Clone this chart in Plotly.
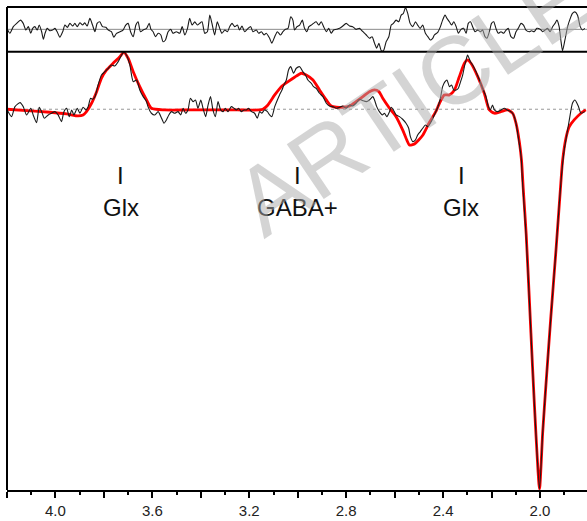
import plotly.graph_objects as go

# ---------------- data ----------------
# acquired (difference) spectrum, black
data_ppm = [4.199, 4.181, 4.167, 4.146, 4.133, 4.119, 4.102, 4.092, 4.078, 4.067, 4.057, 4.046, 4.030, 4.016,
            4.002, 3.989, 3.975, 3.965, 3.954, 3.943, 3.933, 3.924, 3.910, 3.899, 3.886, 3.874, 3.865, 3.855,
            3.847, 3.837, 3.824, 3.810, 3.796, 3.782, 3.769, 3.755, 3.741, 3.727, 3.718, 3.707, 3.693, 3.679,
            3.665, 3.652, 3.638, 3.624, 3.618, 3.604, 3.590, 3.576, 3.562, 3.552, 3.542, 3.532, 3.521, 3.508,
            3.494, 3.483, 3.473, 3.463, 3.453, 3.443, 3.432, 3.422, 3.412, 3.400, 3.391, 3.380, 3.370, 3.360,
            3.350, 3.340, 3.329, 3.318, 3.308, 3.299, 3.288, 3.274, 3.263, 3.253, 3.244, 3.233, 3.222, 3.212,
            3.203, 3.191, 3.178, 3.167, 3.157, 3.148, 3.137, 3.125, 3.116, 3.107, 3.095, 3.084, 3.075, 3.065,
            3.057, 3.047, 3.038, 3.029, 3.017, 3.006, 2.992, 2.979, 2.968, 2.958, 2.944, 2.935, 2.924, 2.910,
            2.896, 2.882, 2.869, 2.855, 2.841, 2.827, 2.814, 2.800, 2.786, 2.773, 2.759, 2.745, 2.731, 2.717,
            2.704, 2.690, 2.683, 2.674, 2.663, 2.651, 2.642, 2.632, 2.621, 2.614, 2.605, 2.594, 2.580, 2.567,
            2.553, 2.542, 2.535, 2.525, 2.514, 2.505, 2.494, 2.484, 2.473, 2.463, 2.449, 2.436, 2.422, 2.411,
            2.402, 2.392, 2.384, 2.374, 2.365, 2.356, 2.346, 2.337, 2.329, 2.319, 2.312, 2.305, 2.299, 2.287,
            2.278, 2.264, 2.250, 2.237, 2.223, 2.213, 2.205, 2.196, 2.188, 2.175, 2.161, 2.147, 2.136, 2.120,
            2.109, 2.099, 2.090, 2.078, 2.072, 2.058, 2.044, 2.031, 2.017, 2.002, 1.989, 1.975, 1.955, 1.934,
            1.914, 1.900, 1.893, 1.879, 1.866, 1.856, 1.842, 1.831, 1.815]
data_val = [-0.7, -7.4, 2.6, 6.6, 2.6, -5.7, 1.0, -5.7, -13.4, 2.0, -2.4, -9.0, -5.7, -4.0,
            -2.4, -5.7, -12.4, -2.4, 1.0, -7.4, -0.7, -5.7, 1.0, -4.0, 2.0, -0.7, 2.6, 11.0,
            10.0, 12.6, 24.3, 34.3, 37.6, 41.0, 44.3, 43.3, 47.6, 54.3, 57.0, 54.3, 44.3, 27.6,
            29.3, 19.3, 12.6, 7.6, 2.6, -4.0, -5.7, -2.4, -9.0, -14.0, -10.7, -5.7, -2.4, -4.0,
            -2.4, -5.7, 1.0, -4.0, -0.7, 11.0, 7.6, 9.3, 1.0, 9.3, 1.0, -7.4, 4.3, 12.6,
            -0.7, -7.4, 7.6, -0.7, -2.4, 1.0, -2.4, 2.6, 1.0, -0.7, 1.0, -2.4, -0.7, -0.7,
            1.0, -2.4, -4.0, -9.0, -2.4, -4.0, -0.7, -2.4, -5.7, -7.4, 2.6, 9.3, 14.3, 19.3,
            24.3, 29.3, 39.3, 42.6, 36.0, 41.0, 42.6, 37.6, 34.3, 29.3, 26.0, 22.6, 21.0, 16.0,
            12.6, 6.0, 3.3, 2.6, 1.0, 2.0, 3.3, 1.0, 4.3, 3.3, 6.0, 10.0, 8.6, 7.6,
            9.3, 12.6, 9.3, 2.6, -2.4, -5.7, -4.0, -7.4, -2.4, 2.0, -0.7, -5.7, -7.4, -10.0,
            -14.0, -19.0, -27.4, -32.4, -30.7, -25.7, -22.4, -19.0, -15.7, -17.4, -12.4, -5.7, 2.0, 11.0,
            22.6, 27.6, 29.3, 22.6, 24.3, 19.3, 19.3, 21.0, 26.6, 34.3, 42.6, 49.3, 54.3, 47.6,
            44.3, 37.6, 29.3, 21.0, 12.6, 2.6, -0.7, 4.3, -0.7, -2.4, -0.7, 1.0, -0.7, -2.4,
            -5.7, -14.0, -27.4, -47.4, -74.0, -124.0, -190.7, -257.4, -324.0, -380.0, -324.0, -274.0, -207.4, -140.7,
            -74.0, -40.7, -30.7, -10.7, 6.0, 9.3, 3.3, -4.0, -2.4]

# model fit, red
fit_ppm = [4.199, 4.119, 4.023, 3.954, 3.906, 3.886, 3.872, 3.851, 3.830, 3.810, 3.789, 3.762, 3.734, 3.718,
           3.700, 3.679, 3.652, 3.624, 3.604, 3.55, 3.45, 3.35, 3.25, 3.157, 3.144, 3.123, 3.095, 3.068,
           3.040, 3.013, 2.985, 2.965, 2.937, 2.910, 2.882, 2.862, 2.841, 2.814, 2.786, 2.759, 2.731, 2.704,
           2.683, 2.665, 2.649, 2.621, 2.594, 2.567, 2.550, 2.539, 2.518, 2.484, 2.456, 2.429, 2.415, 2.395,
           2.374, 2.353, 2.333, 2.312, 2.299, 2.285, 2.257, 2.230, 2.209, 2.188, 2.161, 2.134, 2.113, 2.099,
           2.085, 2.076, 2.069, 2.057, 2.044, 2.031, 2.017, 2.002, 1.989, 1.975, 1.955, 1.934, 1.914, 1.907,
           1.893, 1.879, 1.859, 1.831, 1.811]
fit_val = [0.0, -1.4, -3.0, -4.7, -6.7, -5.7, -2.4, 6.0, 17.6, 31.0, 39.3, 46.0, 52.6, 57.0,
           51.0, 37.6, 22.6, 9.3, 1.0, -0.7, -0.7, -0.7, -0.7, -0.7, 0.0, 4.3, 14.3, 22.6,
           27.6, 32.0, 36.0, 34.3, 29.3, 19.3, 9.3, 3.3, 2.0, 2.0, 3.3, 7.6, 12.6, 17.6,
           19.3, 17.6, 11.0, 1.0, -7.4, -20.7, -30.7, -35.7, -34.7, -26.0, -13.0, -2.0, 6.0, 14.3,
           14.3, 19.3, 32.6, 46.0, 49.3, 46.0, 32.6, 16.0, -0.7, -4.0, -2.4, -0.7, -4.0, -14.0,
           -33.0, -52.0, -80.0, -125.0, -190.0, -257.0, -324.0, -380.0, -324.0, -274.0, -207.0, -141.0, -74.0, -52.0,
           -29.0, -17.4, -10.7, -4.0, -0.7]

# residual, top panel
res_ppm = [4.199, 4.188, 4.174, 4.160, 4.144, 4.133, 4.122, 4.112, 4.102, 4.094, 4.085, 4.075, 4.067, 4.057,
           4.050, 4.043, 4.034, 4.023, 4.012, 4.002, 3.993, 3.982, 3.970, 3.961, 3.951, 3.940, 3.929, 3.920,
           3.910, 3.899, 3.888, 3.879, 3.869, 3.858, 3.847, 3.837, 3.828, 3.817, 3.806, 3.792, 3.782, 3.769,
           3.759, 3.748, 3.734, 3.721, 3.710, 3.700, 3.690, 3.679, 3.668, 3.659, 3.649, 3.638, 3.624, 3.613,
           3.606, 3.597, 3.587, 3.576, 3.565, 3.556, 3.546, 3.535, 3.524, 3.515, 3.501, 3.487, 3.477, 3.466,
           3.455, 3.446, 3.436, 3.425, 3.414, 3.405, 3.395, 3.384, 3.373, 3.363, 3.354, 3.343, 3.332, 3.322,
           3.313, 3.301, 3.290, 3.281, 3.271, 3.260, 3.249, 3.240, 3.230, 3.219, 3.205, 3.194, 3.185, 3.171,
           3.161, 3.150, 3.139, 3.130, 3.116, 3.107, 3.095, 3.084, 3.071, 3.061, 3.051, 3.040, 3.029, 3.020,
           3.013, 3.003, 2.992, 2.981, 2.972, 2.962, 2.954, 2.944, 2.935, 2.924, 2.913, 2.903, 2.893, 2.882,
           2.872, 2.862, 2.852, 2.841, 2.827, 2.814, 2.800, 2.786, 2.773, 2.759, 2.745, 2.731, 2.717, 2.704,
           2.693, 2.683, 2.674, 2.665, 2.655, 2.646, 2.635, 2.624, 2.614, 2.605, 2.594, 2.583, 2.573, 2.564,
           2.555, 2.546, 2.536, 2.525, 2.514, 2.505, 2.495, 2.484, 2.473, 2.463, 2.453, 2.443, 2.436, 2.422,
           2.411, 2.402, 2.392, 2.384, 2.374, 2.365, 2.356, 2.346, 2.337, 2.326, 2.315, 2.305, 2.296, 2.287,
           2.278, 2.268, 2.257, 2.246, 2.237, 2.227, 2.219, 2.209, 2.200, 2.191, 2.182, 2.172, 2.161, 2.150,
           2.140, 2.131, 2.120, 2.109, 2.099, 2.090, 2.078, 2.068, 2.058, 2.044, 2.035, 2.024, 2.013, 1.999,
           1.989, 1.979, 1.969, 1.958, 1.948, 1.938, 1.930, 1.921, 1.914, 1.907, 1.897, 1.886, 1.875, 1.866,
           1.856, 1.845, 1.834, 1.825, 1.815]
res_val = [0.0, -4.0, 2.7, 6.0, 9.3, 6.0, -0.7, 2.7, -4.0, 1.0, 2.7, -0.7, 4.3, -2.4,
           -10.0, -4.0, 1.0, -1.4, -0.7, 1.0, -2.4, -8.0, -2.4, 4.3, 2.0, 6.0, 3.3, 6.0,
           2.7, 6.6, 4.3, 6.6, 3.3, 11.0, 4.3, -2.4, 6.0, 7.6, 2.7, 2.0, -0.7, -2.4,
           -8.0, -4.0, -2.4, -0.7, 4.3, 6.0, -2.4, -7.4, 4.3, 7.6, -2.4, -0.7, 1.0, 6.0,
           0.0, -2.4, -7.4, -4.0, -5.7, -12.4, -10.7, -2.4, 0.0, -4.0, -2.4, -4.0, 2.7, -5.7,
           1.0, 11.0, 4.3, 7.6, 4.3, 6.0, 7.6, -4.0, -2.4, 14.3, 6.0, -5.7, 7.6, 1.0,
           -4.0, -0.7, -2.4, 2.7, 6.0, 2.7, 4.3, -0.7, 3.3, -2.4, 1.0, 2.7, -2.4, -0.7,
           -4.0, -2.4, -5.7, -4.0, -9.0, -14.0, -7.4, -2.4, -5.7, -2.4, 0.0, 1.0, 12.6, 9.3,
           -0.7, 2.7, 4.3, 9.3, 1.0, -2.4, 2.7, 4.3, 6.0, 7.6, 4.3, 7.6, 2.7, -2.4,
           1.0, -4.0, -0.7, 0.0, 1.0, 3.3, 6.0, 3.3, 2.7, 0.0, 1.0, -2.4, -5.7, -9.0,
           -7.4, -14.0, -19.0, -14.0, -21.5, -21.5, -12.4, -7.4, 4.3, 6.0, 9.3, 7.6, 14.3, 16.0,
           22.0, 16.0, 6.0, 2.7, 7.6, 4.3, 1.0, 4.3, -4.0, -7.4, -10.7, -9.0, -5.7, -3.0,
           2.7, 9.3, 14.3, 11.0, 7.6, 4.3, 7.6, 2.7, -4.0, 0.0, 1.0, -4.0, 6.0, 7.6,
           2.7, -2.4, -0.7, -2.4, -0.7, -7.4, -9.0, -2.4, 6.0, 7.6, 1.0, -4.0, -2.4, -4.0,
           -0.7, 1.0, -7.4, -9.0, -2.4, 1.0, 6.0, 4.3, -0.7, -2.4, -1.4, -2.4, 1.0, 0.0,
           -2.4, -0.7, 1.0, -2.4, 2.7, 6.0, 9.3, 2.7, -10.7, -21.5, -10.7, 2.7, 11.0, 16.0,
           17.6, 14.3, 2.7, -0.7, 1.0]

tick_vals = [4.2, 4.0, 3.8, 3.6, 3.4, 3.2, 3.0, 2.8, 2.6, 2.4, 2.2, 2.0, 1.8]
tick_text = ["", "4.0", "", "3.6", "", "3.2", "", "2.8", "", "2.4", "", "2.0", ""]
minor_vals = [4.1, 3.9, 3.7, 3.5, 3.3, 3.1, 2.9, 2.7, 2.5, 2.3, 2.1, 1.9]

label_ppm = [3.73, 3.00, 2.325]
label_text = ["Glx", "GABA+", "Glx"]

# ---------------- figure ----------------
FONT = "Liberation Sans, Arial, sans-serif"
split = 0.9075

fig = go.Figure()
fig.add_trace(go.Scatter(x=fit_ppm, y=fit_val, mode="lines",
                         line=dict(color="#ff0000", width=2.8, shape="spline", smoothing=0.6),
                         xaxis="x", yaxis="y", showlegend=False, hoverinfo="skip"))
fig.add_trace(go.Scatter(x=data_ppm, y=data_val, mode="lines",
                         line=dict(color="#1a1a1a", width=1.1, shape="spline", smoothing=0.6),
                         xaxis="x", yaxis="y", showlegend=False, hoverinfo="skip"))
fig.add_trace(go.Scatter(x=res_ppm, y=res_val, mode="lines",
                         line=dict(color="#1a1a1a", width=1.1, shape="spline", smoothing=0.6),
                         xaxis="x2", yaxis="y2", showlegend=False, hoverinfo="skip"))

shapes = [
    dict(type="line", xref="paper", yref="y", x0=0, x1=1, y0=0, y1=0,
         line=dict(color="#999999", width=1, dash="dot"), layer="below"),
    dict(type="line", xref="paper", yref="y2", x0=0, x1=1, y0=0, y1=0,
         line=dict(color="#8a8a8a", width=1), layer="below"),
    dict(type="line", xref="paper", yref="paper", x0=0, x1=1, y0=1, y1=1,
         line=dict(color="black", width=2)),
    dict(type="line", xref="paper", yref="paper", x0=0, x1=1, y0=split, y1=split,
         line=dict(color="black", width=2)),
    dict(type="line", xref="paper", yref="paper", x0=0, x1=0, y0=0, y1=1,
         line=dict(color="black", width=2)),
]

annotations = []
for p, t in zip(label_ppm, label_text):
    annotations.append(dict(x=p, y=-66, xref="x", yref="y", text="I", showarrow=False,
                            font=dict(family=FONT, size=24, color="#111111"),
                            xanchor="center", yanchor="middle"))
    annotations.append(dict(x=p, y=-98, xref="x", yref="y", text=t, showarrow=False,
                            font=dict(family=FONT, size=24, color="#111111"),
                            xanchor="center", yanchor="middle"))

annotations.append(dict(x=0.70, y=0.81, xref="paper", yref="paper", text="ARTICLE",
                        showarrow=False, textangle=-34,
                        font=dict(family=FONT, size=96, color="rgba(170,170,170,0.5)"),
                        xanchor="center", yanchor="middle"))

fig.update_layout(
    width=587, height=521,
    margin=dict(l=7, r=0, t=7, b=31),
    paper_bgcolor="white", plot_bgcolor="white",
    showlegend=False,
    xaxis=dict(domain=[0, 1], range=[4.2, 1.806], anchor="y",
               showline=True, linecolor="black", linewidth=2,
               showgrid=False, zeroline=False,
               tickmode="array", tickvals=tick_vals, ticktext=tick_text,
               ticks="outside", ticklen=6, tickwidth=1.5, tickcolor="black",
               tickfont=dict(family=FONT, size=15, color="#222222"),
               minor=dict(tickmode="array", tickvals=minor_vals, ticks="outside",
                          ticklen=3, tickwidth=1.5, tickcolor="black", showgrid=False)),
    yaxis=dict(domain=[0, split], range=[-381, 57.6], visible=False, fixedrange=True),
    xaxis2=dict(domain=[0, 1], range=[4.2, 1.806], anchor="y2", visible=False, matches="x"),
    yaxis2=dict(domain=[split, 1], range=[-22.5, 22.5], visible=False),
    shapes=shapes,
    annotations=annotations,
)

fig.write_html("out.html", config={"displayModeBar": False},
               post_script="document.body.style.margin='0';")
